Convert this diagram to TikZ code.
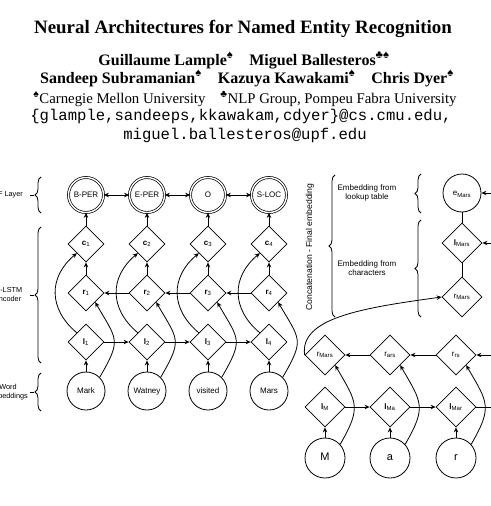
\documentclass[tikz,border=0pt]{standalone}
\usepackage{fontspec}
\setmainfont{Liberation Serif}
\setsansfont{Liberation Sans}
\setmonofont{Liberation Mono}
\usetikzlibrary{shapes.geometric,arrows.meta,decorations.pathreplacing}

\tikzset{
  arr/.style={-{Stealth[length=5pt,width=4.5pt]}, line width=0.8pt},
  arrboth/.style={{Stealth[length=5pt,width=4.5pt]}-{Stealth[length=5pt,width=4.5pt]}, line width=0.8pt},
  cell/.style={draw, diamond, line width=0.8pt, inner sep=0pt, minimum size=36pt,
    font=\sffamily\fontsize{8}{9}\selectfont},
  cellbig/.style={cell, minimum size=40pt},
  wordnode/.style={draw, circle, line width=0.8pt, inner sep=0pt, minimum size=38pt,
    text height=1.6ex, text depth=0.4ex, font=\sffamily\fontsize{8}{9}\selectfont},
  charnode/.style={wordnode, minimum size=40pt, font=\sffamily\fontsize{11}{12}\selectfont},
  crfnode/.style={draw, circle, double, double distance=1.4pt, line width=0.7pt,
    inner sep=0pt, minimum size=35pt, font=\sffamily\fontsize{8}{9}\selectfont},
  sidetext/.style={align=center, font=\sffamily\fontsize{8}{9.5}\selectfont},
  layertext/.style={align=center, inner sep=0pt, font=\sffamily\fontsize{7.3}{9}\selectfont},
  bracket/.style={decorate, decoration={brace, amplitude=6pt}, line width=0.8pt},
}

\begin{document}
\begin{tikzpicture}[x=1pt, y=1pt]
  % Page frame
  \useasboundingbox (0,0) rectangle (490,-506);

  % Header of the paper
  \node[anchor=base, font=\bfseries\fontsize{18.9}{20}\selectfont] (title) at (243,-34)
    {Neural Architectures for Named Entity Recognition};
  \node[anchor=base, font=\bfseries\fontsize{16}{18}\selectfont] (authA) at (244,-65)
    {Guillaume Lample\textsuperscript{♠}\quad Miguel Ballesteros\textsuperscript{♣♠}};
  \node[anchor=base, font=\bfseries\fontsize{16}{18}\selectfont] (authB) at (247,-83)
    {Sandeep Subramanian\textsuperscript{♠}\quad Kazuya Kawakami\textsuperscript{♠}\quad Chris Dyer\textsuperscript{♠}};
  \node[anchor=base, font=\fontsize{14.8}{16}\selectfont] (affil) at (245,-103)
    {\textsuperscript{♠}Carnegie Mellon University\quad \textsuperscript{♣}NLP Group, Pompeu Fabra University};
  \node[anchor=base, font=\ttfamily\fontsize{15.6}{17}\selectfont] (mailA) at (241,-120)
    {\{glample,sandeeps,kkawakam,cdyer\}@cs.cmu.edu,};
  \node[anchor=base, font=\ttfamily\fontsize{15.6}{17}\selectfont] (mailB) at (245,-139)
    {miguel.ballesteros@upf.edu};

  % Left diagram: one column per word
  \foreach \i/\x/\tag/\word in {1/86/B-PER/Mark, 2/147/E-PER/Watney, 3/208/O/visited, 4/269/S-LOC/Mars} {
    \node[crfnode] (crf\i) at (\x,-195) {\tag};
    \node[cell] (c\i) at (\x,-244) {\textbf{c}\textsubscript{\i}};
    \node[cell] (r\i) at (\x,-293) {\textbf{r}\textsubscript{\i}};
    \node[cell] (l\i) at (\x,-342) {\textbf{l}\textsubscript{\i}};
    \node[wordnode] (w\i) at (\x,-391) {\word};
  }

  % Vertical links and skip arcs
  \foreach \i in {1,...,4} {
    \draw[arr] (w\i) -- (l\i);
    \draw[arr] (r\i) -- (c\i);
    \draw[arr] (c\i) -- (crf\i);
    \draw[arr] (l\i.north west) to[out=140, in=220, looseness=1.2] (c\i.south west);
    \draw[arr] (w\i.45) to[out=60, in=-60, looseness=1.5] (r\i.south east);
  }

  % Forward, backward and CRF links
  \foreach \i/\j in {1/2, 2/3, 3/4} {
    \draw[arr] (l\i) -- (l\j);
    \draw[arr] (r\j) -- (r\i);
    \draw[arrboth] (crf\i) -- (crf\j);
  }

  % Layer labels
  \node[layertext, anchor=east] (crflab) at (23,-195) {CRF Layer};
  \node[layertext] (lstmlab) at (8,-294) {Bi-LSTM\\encoder};
  \node[layertext] (emblab) at (8,-392) {Word\\embeddings};
  \draw[bracket] (41,-213) -- (41,-177);
  \draw[bracket] (41,-363) -- (41,-227);
  \draw[bracket] (41,-411) -- (41,-373);
  \draw[line width=0.8pt] (30,-195) -- (34,-195);
  \draw[line width=0.8pt] (30,-295) -- (34,-295);
  \draw[line width=0.8pt] (30,-392) -- (34,-392);

  % Right diagram: final embedding of "Mars"
  \node[wordnode] (eMars) at (462,-193) {e\textsubscript{Mars}};
  \node[cellbig] (lMars) at (462,-243) {\textbf{l}\textsubscript{Mars}};
  \node[cellbig] (rMars) at (462,-297) {r\textsubscript{Mars}};
  \draw[line width=0.8pt] (eMars) -- (lMars);
  \draw[line width=0.8pt] (lMars) -- (rMars);

  % Character level network
  \foreach \i/\x/\ch/\fw/\bw in {1/325/M/M/Mars, 2/390/a/Ma/ars, 3/456/r/Mar/rs} {
    \node[charnode] (ch\i) at (\x,-458) {\ch};
    \node[cellbig] (cf\i) at (\x,-407) {\textbf{l}\textsubscript{\fw}};
    \node[cellbig] (cb\i) at (\x,-355) {r\textsubscript{\bw}};
    \draw[arr] (ch\i) -- (cf\i);
    \draw[arr] (ch\i.42) to[out=60, in=-60, looseness=1.4] (cb\i.south east);
  }
  \foreach \i/\j in {1/2, 2/3} {
    \draw[arr] (cf\i) -- (cf\j);
    \draw[arr] (cb\j) -- (cb\i);
  }

  % Links leaving the picture on the right
  \coordinate (inE) at (495,-193);
  \coordinate (inL) at (495,-243);
  \coordinate (inB) at (495,-355);
  \coordinate (outF) at (495,-407);
  \draw[arr] (inE) -- (eMars);
  \draw[arr] (inL) -- (lMars);
  \draw[arr] (inB) -- (cb3);
  \draw[line width=0.8pt] (cf3) -- (outF);
  \draw[arr] (cb1.west) .. controls +(-5,37) and +(-80,-11) .. (rMars.west);

  % Right labels
  \node[sidetext, rotate=90, font=\sffamily\fontsize{8.6}{10}\selectfont] (concat) at (310,-247)
    {Concatenation - Final embedding};
  \node[sidetext] (lookup) at (367,-193) {Embedding from\\lookup table};
  \node[sidetext] (chars) at (367,-268) {Embedding from\\characters};
  \draw[bracket] (335,-317) -- (335,-175);
  \draw[bracket] (421,-213) -- (421,-174);
  \draw[bracket] (421,-317) -- (421,-220);
\end{tikzpicture}
\end{document}
